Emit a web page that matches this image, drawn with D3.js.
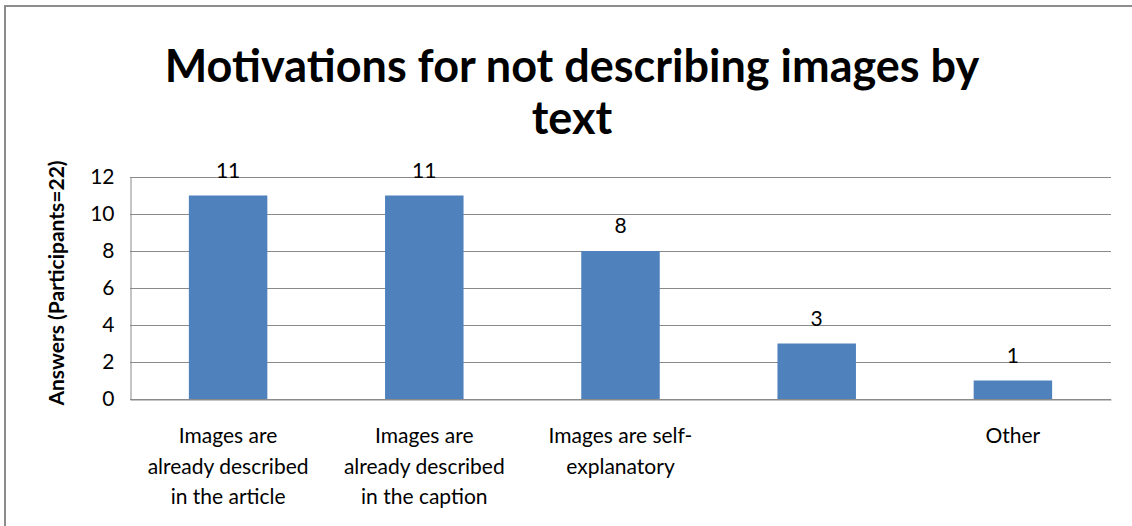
<!DOCTYPE html>
<html>
<head>
<meta charset="utf-8">
<script src="https://cdn.jsdelivr.net/npm/d3@7"></script>
<style>
  html, body { margin: 0; padding: 0; background: #fff; }
  svg { display: block; }
  text { font-family: Lato, "Open Sans", sans-serif; }
</style>
</head>
<body>
<svg id="chart" width="1132" height="526"></svg>
<script>
const categories = [
  "Images are already described in the article",
  "Images are already described in the caption",
  "Images are self-explanatory",
  "",
  "Other"
];
const categoryLines = [
  ["Images are", "already described", "in the article"],
  ["Images are", "already described", "in the caption"],
  ["Images are self-", "explanatory"],
  [],
  ["Other"]
];
const values = [11, 11, 8, 3, 1];
const yTicks = [0, 2, 4, 6, 8, 10, 12];
const titleLines = ["Motivations for not describing images by", "text"];
const yLabel = "Answers (Participants=22)";

const W = 1132, H = 526;
const margin = { left: 130, right: 21, top: 177, bottom: 127 };
const svg = d3.select("#chart");

svg.append("rect").attr("width", W).attr("height", H).attr("fill", "#fff");
// outer border (top and left visible)
svg.append("rect")
  .attr("x", 5).attr("y", 6)
  .attr("width", W + 10).attr("height", H + 10)
  .attr("fill", "none").attr("stroke", "#8c8c8c").attr("stroke-width", 2);

const x = d3.scaleBand()
  .domain(d3.range(categories.length))
  .range([margin.left, W - margin.right])
  .paddingInner(0.6).paddingOuter(0.3);
const y = d3.scaleLinear().domain([0, 12]).range([H - margin.bottom, margin.top]);

// gridlines
svg.append("g").selectAll("line").data(yTicks).join("line")
  .attr("x1", margin.left).attr("x2", W - margin.right)
  .attr("y1", d => Math.round(y(d)) + 0.5).attr("y2", d => Math.round(y(d)) + 0.5)
  .attr("stroke", "#8a8a8a").attr("stroke-width", 1);

// y axis
const yAxis = svg.append("g")
  .attr("transform", `translate(${margin.left + 0.5},0)`)
  .call(d3.axisLeft(y).tickValues(yTicks).tickSize(0).tickPadding(16));
yAxis.select(".domain").attr("stroke", "#8a8a8a");
yAxis.selectAll("text").attr("font-size", 21).attr("fill", "#000")
  .style("font-family", "Lato, sans-serif");

// bars
svg.append("g").selectAll("rect").data(values).join("rect")
  .attr("x", (d, i) => x(i)).attr("width", x.bandwidth())
  .attr("y", d => y(d)).attr("height", d => y(0) - y(d))
  .attr("fill", "#4f81bd");

// value labels
svg.append("g").selectAll("text").data(values).join("text")
  .attr("x", (d, i) => x(i) + x.bandwidth() / 2)
  .attr("y", d => y(d) - 18)
  .attr("text-anchor", "middle")
  .attr("font-size", 21).attr("fill", "#000")
  .text(d => d);

// x axis (baseline)
const xAxis = svg.append("g")
  .attr("transform", `translate(0,${Math.round(y(0)) + 0.5})`)
  .call(d3.axisBottom(x).tickSize(0).tickFormat(""));
xAxis.select(".domain").attr("stroke", "#8a8a8a");

// category labels
const catG = svg.append("g");
categoryLines.forEach((lines, i) => {
  const t = catG.append("text")
    .attr("x", x(i) + x.bandwidth() / 2)
    .attr("y", y(0) + 44)
    .attr("text-anchor", "middle")
    .attr("font-size", 21).attr("fill", "#000");
  lines.forEach((ln, j) => {
    t.append("tspan").attr("x", x(i) + x.bandwidth() / 2)
      .attr("dy", j === 0 ? 0 : 30.5).text(ln);
  });
});

// title
const tt = svg.append("text")
  .attr("text-anchor", "middle")
  .attr("font-size", 45).attr("font-weight", "bold").attr("fill", "#000");
titleLines.forEach((ln, j) => {
  tt.append("tspan").attr("x", 572).attr("y", 82 + j * 52).text(ln);
});

// y label
svg.append("text")
  .attr("transform", `translate(64,283) rotate(-90)`)
  .attr("text-anchor", "middle")
  .attr("font-size", 21).attr("font-weight", "bold").attr("fill", "#000")
  .text(yLabel);
</script>
</body>
</html>
